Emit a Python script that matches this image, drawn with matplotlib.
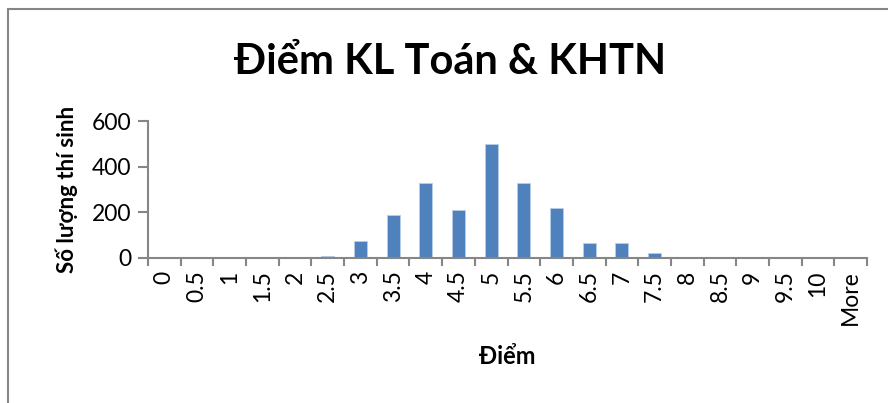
import matplotlib.pyplot as plt
import numpy as np
from matplotlib.patches import Rectangle

plt.rcParams['font.family'] = ['Lato', 'DejaVu Sans']

# du lieu doc tu bieu do
diem = ['0', '0.5', '1', '1.5', '2', '2.5', '3', '3.5', '4', '4.5', '5',
        '5.5', '6', '6.5', '7', '7.5', '8', '8.5', '9', '9.5', '10', 'More']
so_luong = [0, 0, 0, 1, 4, 10, 73, 187, 330, 212, 501,
            330, 220, 64, 64, 20, 3, 0, 0, 0, 0, 0]
y_ticks = [0, 200, 400, 600]

mau_cot = '#4F81BD'
mau_truc = '#868686'

fig = plt.figure(figsize=(8.88, 4.03), dpi=100)
ax = fig.add_axes([148 / 888, 1 - 258 / 403, (867 - 148) / 888, (258 - 121) / 403])

x = np.arange(len(diem))
ax.bar(x, so_luong, width=0.4, color=mau_cot, edgecolor='#B9CDE5', linewidth=0.6)

ax.set_xlim(-0.5, len(diem) - 0.5)
ax.set_ylim(0, 600)
ax.set_yticks(y_ticks)
ax.set_yticklabels([str(v) for v in y_ticks], fontsize=16.5)

# nhan o giua cot, vach o ranh gioi
ax.set_xticks(x)
ax.set_xticklabels(diem, rotation=90, fontsize=16.5, va='top')
ax.set_xticks(np.arange(len(diem) + 1) - 0.5, minor=True)
ax.tick_params(axis='x', which='major', length=0, pad=9)
ax.tick_params(axis='x', which='minor', length=6, width=1.5, color=mau_truc)
ax.tick_params(axis='y', length=7, width=1.5, color=mau_truc, pad=5)

for s in ['top', 'right']:
    ax.spines[s].set_visible(False)
for s in ['left', 'bottom']:
    ax.spines[s].set_color(mau_truc)
    ax.spines[s].set_linewidth(1.5)

ax.set_ylabel('Số lượng thí sinh', fontsize=16, fontweight='bold', labelpad=10)
ax.set_xlabel('Điểm', fontsize=17, fontweight='bold', labelpad=14)
fig.text(0.507, 1 - 62 / 403, 'Điểm KL Toán & KHTN', fontsize=30, fontweight='bold',
         ha='center', va='center')

# khung bieu do
fig.patches.append(Rectangle((8 / 888, -0.1), 1.0, 1 - 9 / 403 + 0.1, transform=fig.transFigure,
                             fill=False, edgecolor=mau_truc, linewidth=1.5))

fig.savefig('out.png', dpi=100)
